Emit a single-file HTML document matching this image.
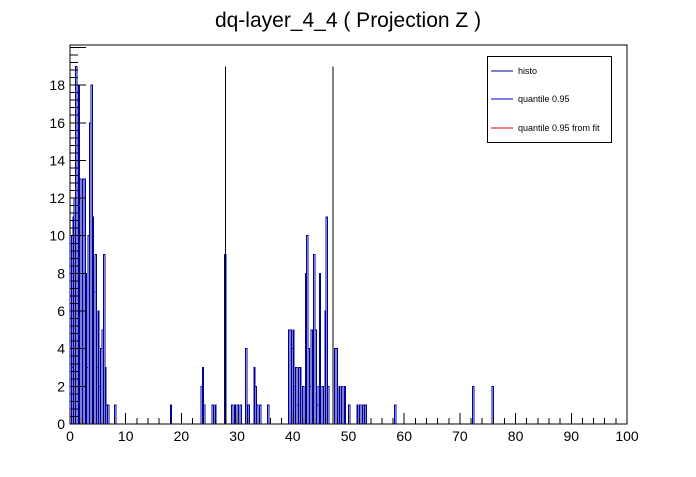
<!DOCTYPE html>
<html><head><meta charset="utf-8"><style>
body{margin:0;background:#fff}
svg text{font-family:"Liberation Sans",sans-serif}
</style></head><body>
<svg id="c" width="696" height="472" xmlns="http://www.w3.org/2000/svg">
<text x="348" y="27" font-size="21" text-anchor="middle">dq-layer_4_4 ( Projection Z )</text>
<rect x="70" y="45" width="557" height="379" fill="none" stroke="#000" stroke-width="1" shape-rendering="crispEdges"/>
<g id="marks" shape-rendering="crispEdges"></g><g id="axes" shape-rendering="crispEdges"></g>
<g shape-rendering="crispEdges">
<rect x="487.5" y="56.5" width="124" height="86" fill="#fff" stroke="#000"/>
<line x1="491" y1="71" x2="513" y2="71" stroke="#00009a"/>
<text x="518" y="74" font-size="9">histo</text>
<line x1="491" y1="99" x2="513" y2="99" stroke="#0000cc"/>
<text x="518" y="102" font-size="9">quantile 0.95</text>
<line x1="491" y1="128" x2="513" y2="128" stroke="#dd0000"/>
<text x="518" y="131" font-size="9">quantile 0.95 from fit</text>
</g>
</svg>
<script>
const binLow=[0,0.25,0.5,0.75,1,1.25,1.5,1.75,2,2.25,2.5,2.75,3,3.25,3.5,3.75,4,4.25,4.5,4.75,5,5.25,5.5,5.75,6,6.25,6.5,6.75,8,18,23.5,23.75,24,25.5,26,27.75,29,29.5,30,30.5,31.5,32,33,33.25,33.5,34,35.5,39.25,39.5,39.75,40,40.25,40.5,40.75,41,41.25,41.75,42.25,42.5,42.75,43,43.25,43.5,43.75,44,44.25,44.5,44.75,45.25,45.75,46,46.25,47.5,47.75,48.25,48.75,49.25,50,51.5,52,52.5,53,58.25,72.25,75.75];
const binCounts=[10,3,11,12,19,16,18,13,4,13,13,8,3,10,16,18,11,7,9,3,6,2,4,5,9,3,1,1,1,1,2,3,1,1,1,9,1,1,1,1,4,1,3,2,1,1,1,5,5,4,5,2,3,1,3,3,2,8,10,4,2,5,2,9,5,1,2,8,2,6,11,2,4,4,2,2,2,1,1,1,1,1,1,2,2];
const quantiles=[27.9,47.25];
const quantileHeight=19;
const xTicks=[0,10,20,30,40,50,60,70,80,90,100];
const yTicks=[0,2,4,6,8,10,12,14,16,18];
const BW=0.25, X0=70,X1=627,Y0=424,Y1=45,YMAX=20.13;
const sx=v=>X0+(v/100)*(X1-X0), sy=v=>Y0-(v/YMAX)*(Y0-Y1);
const NS="http://www.w3.org/2000/svg";
const mk=(t,a,p)=>{const e=document.createElementNS(NS,t);for(const k in a)e.setAttribute(k,a[k]);p.appendChild(e);return e;};
const marks=document.getElementById('marks'), axes=document.getElementById('axes');
binLow.forEach((b,i)=>{
 const r=mk('path',{d:`M${sx(b)},${Y0}V${sy(binCounts[i])}H${sx(b+BW)}V${Y0}`,fill:'none',stroke:'#00009a','stroke-width':1},marks);
 
 
});
quantiles.forEach(q=>{
 const l=mk('line',{x1:sx(q),x2:sx(q),y1:Y0,y2:sy(quantileHeight),stroke:'#000','stroke-width':1},marks);
 
 
});
for(let v=0;v<=100;v+=2){const x=sx(v);mk('line',{x1:x,x2:x,y1:Y0,y2:Y0-(v%10?6:11),stroke:'#000'},axes);}
xTicks.forEach(v=>{const t=mk('text',{x:sx(v),y:441,'font-size':14,'text-anchor':'middle'},axes);t.textContent=v;
 
 });
for(let v=0;v<=YMAX;v+=0.4){const y=sy(v);const maj=Math.abs(v/2-Math.round(v/2))<1e-6;mk('line',{x1:X0,x2:X0+(maj?16:8),y1:y,y2:y,stroke:'#000'},axes);}
yTicks.forEach(v=>{const t=mk('text',{x:65,y:sy(v)+5,'font-size':14,'text-anchor':'end'},axes);t.textContent=v;
 
 });
</script>
</body></html>
